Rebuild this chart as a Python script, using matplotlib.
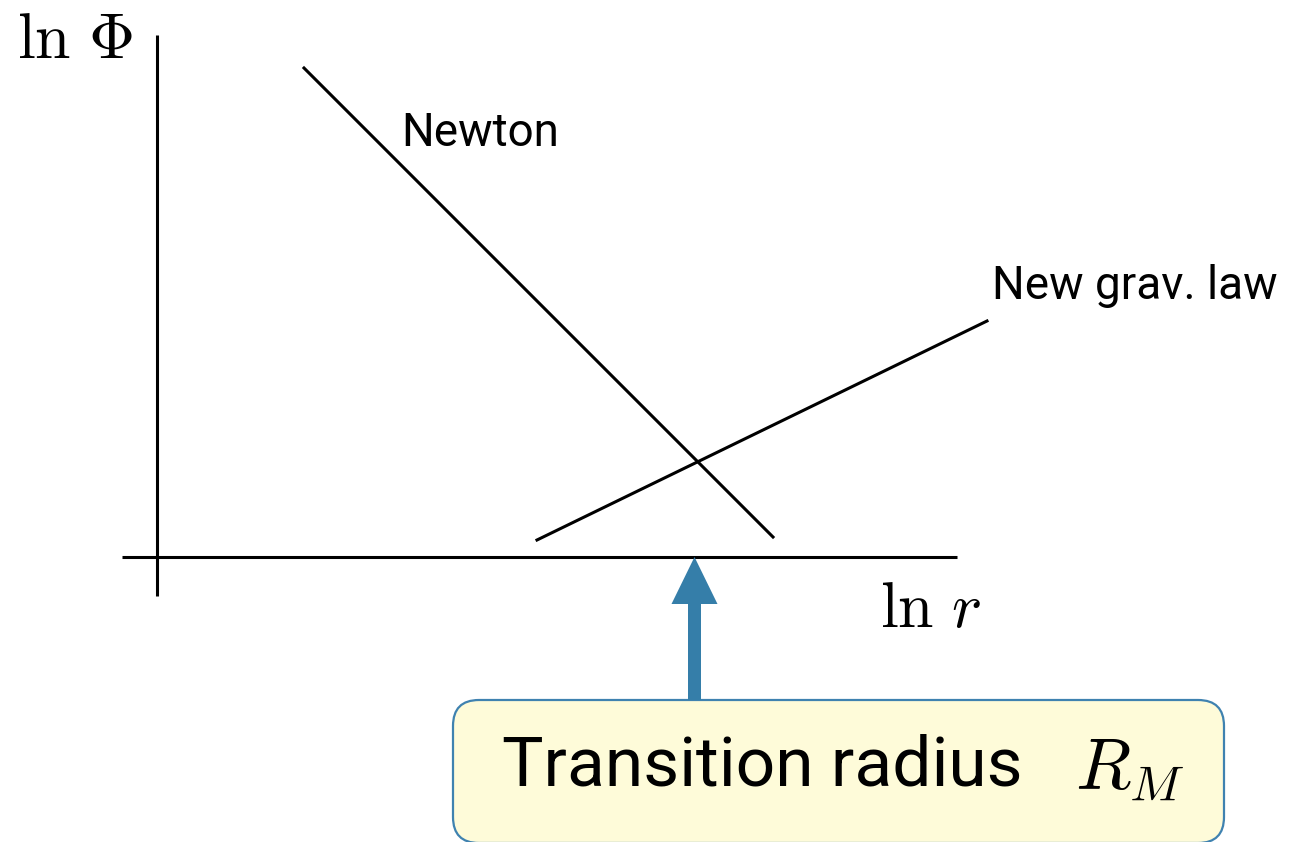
import matplotlib
matplotlib.use("Agg")
import matplotlib.pyplot as plt
from matplotlib.patches import FancyBboxPatch

plt.rcParams['mathtext.fontset'] = 'cm'

# schematic potentials in (ln r, ln Phi)
newton_lnr = [1.47, 6.16]
newton_lnphi = [4.89, 0.20]
newlaw_lnr = [3.80, 8.30]
newlaw_lnphi = [0.17, 2.36]
r_transition = 5.375

line_labels = ["Newton", "New grav. law"]
box_text = "Transition radius"
box_symbol = r"$R_M$"

ARROW_BLUE = "#357ea9"
BOX_FILL = "#fefbd9"
BOX_EDGE = "#3f82b0"
LABEL_FONT = dict(family=["Roboto", "DejaVu Sans"], weight="normal")

fig = plt.figure(figsize=(12.9, 8.42), dpi=100)
ax = fig.add_axes([0, 0, 1, 1])
ax.set_xlim(-1.57, 11.33)
ax.set_ylim(-2.85, 5.57)
ax.axis("off")

# hand-drawn style axes
ax.plot([-0.35, 8.0], [0, 0], color="black", lw=2.2, solid_capstyle="butt")
ax.plot([0, 0], [-0.39, 5.22], color="black", lw=2.2, solid_capstyle="butt")
ax.text(-0.82, 5.17, r"$\ln\,\Phi$", fontsize=46, ha="center", va="center")
ax.text(7.74, -0.52, r"$\ln\,r$", fontsize=46, ha="center", va="center")

ax.plot(newton_lnr, newton_lnphi, color="black", lw=2.2)
ax.plot(newlaw_lnr, newlaw_lnphi, color="black", lw=2.2)
ax.text(2.44, 4.24, line_labels[0], fontsize=33, ha="left", va="center", **LABEL_FONT)
ax.text(8.35, 2.71, line_labels[1], fontsize=33, ha="left", va="center", **LABEL_FONT)

# callout box + arrow to the crossing radius
box = FancyBboxPatch((2.96, -2.86), 7.71, 1.43,
                     boxstyle="round,pad=0,rounding_size=0.26",
                     facecolor=BOX_FILL, edgecolor=BOX_EDGE, lw=1.6, zorder=2)
ax.add_patch(box)
ax.arrow(r_transition, -1.43, 0, 1.43, width=0.13, head_width=0.46,
         head_length=0.47, length_includes_head=True,
         color=ARROW_BLUE, lw=0, zorder=3)
ax.text(3.45, -2.1, box_text, fontsize=50, ha="left", va="center", zorder=4, **LABEL_FONT)
ax.text(9.18, -2.12, box_symbol, fontsize=52, ha="left", va="center", zorder=4)

fig.savefig("out.png", dpi=100)
